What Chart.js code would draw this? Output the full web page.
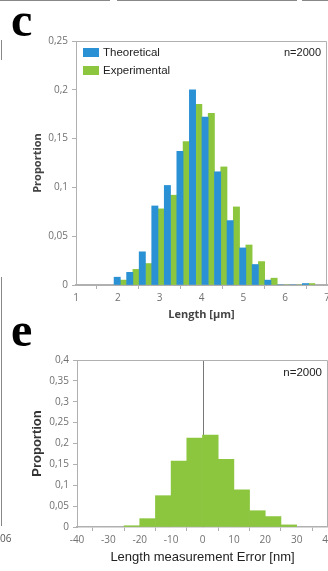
<!DOCTYPE html>
<html>
<head>
<meta charset="utf-8">
<script src="https://cdn.jsdelivr.net/npm/chart.js@4"></script>
<style>
  html, body { margin: 0; padding: 0; background: #fff; overflow: hidden; }
  #page { position: relative; width: 328px; height: 571px; }
  canvas { position: absolute; left: 0; }
  #chartLength { top: 0; }
  #chartError { top: 350px; }
  .panel { position: absolute; left: 11px; font: bold 48px 'Liberation Serif', serif; line-height: 48px; color: #000; z-index: 2; }
  .edge { position: absolute; background: #888; }
  .stray { position: absolute; font: 10px 'Open Sans', sans-serif; color: #555; }
</style>
</head>
<body>
<div id="page">
  <canvas id="chartLength" width="328" height="325"></canvas>
  <canvas id="chartError" width="328" height="221"></canvas>
  <div class="panel" style="top:-4px">c</div>
  <div class="panel" style="top:306px">e</div>
  <!-- restos das bordas dos painéis vizinhos -->
  <div class="edge" style="left:0;top:0;width:110px;height:1px"></div>
  <div class="edge" style="left:117px;top:0;width:180px;height:1px"></div>
  <div class="edge" style="left:302px;top:0;width:26px;height:1px"></div>
  <div class="edge" style="left:1px;top:40px;width:1px;height:20px"></div>
  <div class="edge" style="left:1px;top:277px;width:1px;height:249px"></div>
  <div class="stray" style="left:0;top:531px">06</div>
</div>
<script>
// === Dados ===
const lengthBins = [2.06, 2.36, 2.66, 2.96, 3.26, 3.56, 3.86, 4.16, 4.46, 4.76, 5.06, 5.36, 5.66, 5.96, 6.26, 6.56];
const theoretical = [0.008, 0.013, 0.034, 0.081, 0.102, 0.137, 0.200, 0.172, 0.116, 0.066, 0.038, 0.021, 0.005, 0, 0, 0.0015];
const experimental = [0.005, 0.016, 0.022, 0.078, 0.092, 0.147, 0.185, 0.176, 0.121, 0.080, 0.041, 0.024, 0.007, 0, 0, 0.0015];

const errorBins = [-22.5, -17.5, -12.5, -7.5, -2.5, 2.5, 7.5, 12.5, 17.5, 22.5, 27.5];
const errorProportion = [0.003, 0.020, 0.075, 0.158, 0.213, 0.220, 0.162, 0.089, 0.039, 0.025, 0.005];

const lengthTicks = { min: 1, max: 7, step: 1 };
const errorTicks = { min: -40, max: 40, step: 10 };
const sampleLabel = 'n=2000';

const BLUE = '#2b91d5';
const GREEN = '#8cc63f';
const AXIS = '#b0b0b0';

Chart.defaults.font.family = "'Open Sans', sans-serif";
Chart.defaults.color = '#707070';

function toPoints(xs, ys) {
    return xs.map((x, i) => ({ x: x, y: ys[i] }));
}

function commaTick(value) {
    return String(Math.round(value * 100) / 100).replace('.', ',');
}

// moldura cinza em cima e à direita da área do gráfico
const framePlugin = {
    id: 'frame',
    afterDraw(chart) {
        const { ctx, chartArea: a } = chart;
        ctx.save();
        ctx.strokeStyle = AXIS;
        ctx.lineWidth = 1;
        ctx.beginPath();
        ctx.moveTo(a.left, a.top + 0.5);
        ctx.lineTo(a.right - 0.5, a.top + 0.5);
        ctx.lineTo(a.right - 0.5, a.bottom);
        ctx.stroke();
        ctx.restore();
    }
};

// legenda + n=2000 dentro da área
const insideLabels = {
    id: 'insideLabels',
    afterDraw(chart, args, opts) {
        const { ctx, chartArea: a } = chart;
        ctx.save();
        ctx.textBaseline = 'middle';
        if (opts.legend) {
            chart.data.datasets.forEach((ds, i) => {
                const y = a.top + 7 + i * 18;
                ctx.fillStyle = ds.backgroundColor;
                ctx.fillRect(a.left + 7, y, 16, 9);
                ctx.fillStyle = '#222';
                ctx.font = "11.5px 'Liberation Sans', Arial, sans-serif";
                ctx.textAlign = 'left';
                ctx.fillText(ds.label, a.left + 27, y + 4.5);
            });
        }
        ctx.fillStyle = '#222';
        ctx.font = opts.nFont;
        ctx.textAlign = 'right';
        ctx.fillText(sampleLabel, a.right - 6, a.top + opts.nOffset);
        ctx.restore();
    }
};

// linha vertical em zero (atrás das barras)
const zeroLine = {
    id: 'zeroLine',
    beforeDatasetsDraw(chart) {
        const { ctx, chartArea: a, scales } = chart;
        const x = Math.round(scales.x.getPixelForValue(0)) + 0.5;
        ctx.save();
        ctx.strokeStyle = '#777';
        ctx.lineWidth = 1;
        ctx.beginPath();
        ctx.moveTo(x, a.top);
        ctx.lineTo(x, a.bottom);
        ctx.stroke();
        ctx.restore();
    }
};

// === 1. Histograma de comprimento ===
new Chart(document.getElementById('chartLength'), {
    type: 'bar',
    data: {
        datasets: [
            {
                label: 'Theoretical',
                data: toPoints(lengthBins, theoretical),
                backgroundColor: BLUE,
                categoryPercentage: 1,
                barPercentage: 1
            },
            {
                label: 'Experimental',
                data: toPoints(lengthBins, experimental),
                backgroundColor: GREEN,
                categoryPercentage: 1,
                barPercentage: 1
            }
        ]
    },
    options: {
        responsive: false,
        animation: false,
        layout: { padding: { top: 41, right: 1, left: 0, bottom: 0 } },
        plugins: {
            legend: { display: false },
            tooltip: { enabled: false },
            insideLabels: { legend: true, nFont: "11px 'Liberation Sans', Arial, sans-serif", nOffset: 12 }
        },
        scales: {
            x: {
                type: 'linear',
                min: lengthTicks.min,
                max: lengthTicks.max,
                offset: false,
                ticks: { stepSize: lengthTicks.step, font: { size: 10 }, padding: 3, maxRotation: 0 },
                grid: { drawOnChartArea: false, tickLength: 4, color: AXIS },
                border: { color: AXIS, width: 2 },
                title: {
                    display: true,
                    text: 'Length [µm]',
                    color: '#444',
                    font: { size: 11, weight: 'bold' },
                    padding: { top: 0, bottom: 4 }
                },
                afterFit(s) { s.height = 40; s.paddingLeft = 0; s.paddingRight = 0; }
            },
            y: {
                min: 0,
                max: 0.25,
                ticks: { stepSize: 0.05, font: { size: 10 }, padding: 4, callback: commaTick },
                grid: { drawOnChartArea: false, tickLength: 4, color: AXIS },
                border: { color: AXIS },
                title: {
                    display: true,
                    text: 'Proportion',
                    color: '#444',
                    font: { size: 11, weight: 'bold' },
                    padding: { top: 31, bottom: 10 }
                },
                afterFit(s) { s.width = 76; s.paddingTop = 0; s.paddingBottom = 0; }
            }
        }
    },
    plugins: [framePlugin, insideLabels]
});

// === 2. Histograma do erro ===
new Chart(document.getElementById('chartError'), {
    type: 'bar',
    data: {
        datasets: [{
            label: 'Error',
            data: toPoints(errorBins, errorProportion),
            backgroundColor: GREEN,
            categoryPercentage: 1,
            barPercentage: 1
        }]
    },
    options: {
        responsive: false,
        animation: false,
        layout: { padding: { top: 10, right: 0, left: 0, bottom: 0 } },
        plugins: {
            legend: { display: false },
            tooltip: { enabled: false },
            insideLabels: { legend: false, nFont: "11.5px 'Liberation Sans', Arial, sans-serif", nOffset: 13 }
        },
        scales: {
            x: {
                type: 'linear',
                min: errorTicks.min,
                max: errorTicks.max,
                offset: false,
                ticks: { stepSize: errorTicks.step, font: { size: 10 }, padding: 3, maxRotation: 0 },
                grid: { drawOnChartArea: false, tickLength: 4, color: AXIS },
                border: { color: AXIS, width: 1.5 },
                title: {
                    display: true,
                    text: 'Length measurement Error [nm]',
                    color: '#222',
                    font: { family: "'Liberation Sans', Arial, sans-serif", size: 13 },
                    padding: { top: 0, bottom: 6 }
                },
                afterFit(s) { s.height = 44; s.paddingLeft = 0; s.paddingRight = 0; }
            },
            y: {
                min: 0,
                max: 0.4,
                ticks: { stepSize: 0.05, font: { size: 10 }, padding: 4, callback: commaTick },
                grid: { drawOnChartArea: false, tickLength: 4, color: AXIS },
                border: { color: AXIS },
                title: {
                    display: true,
                    text: 'Proportion',
                    color: '#333',
                    font: { family: "'Liberation Sans', Arial, sans-serif", size: 13, weight: 'bold' },
                    padding: { top: 30, bottom: 0 }
                },
                afterFit(s) { s.width = 77; s.paddingTop = 0; s.paddingBottom = 0; }
            }
        }
    },
    plugins: [framePlugin, insideLabels, zeroLine]
});
</script>
</body>
</html>
